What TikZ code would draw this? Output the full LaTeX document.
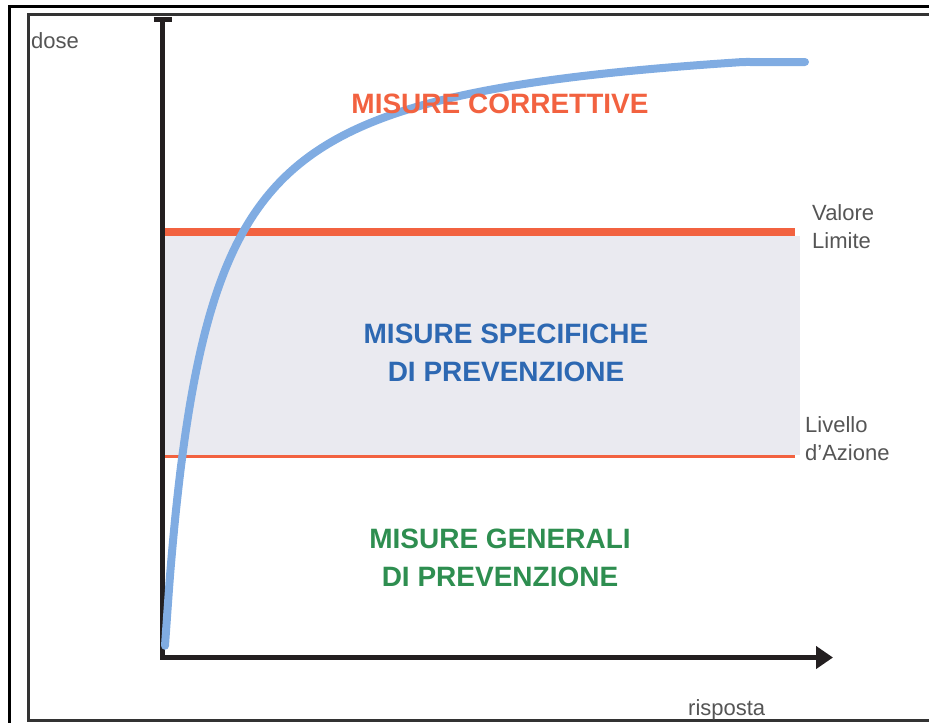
\documentclass[tikz,border=0pt]{standalone}
\usepackage{fontspec}
\setmainfont{Liberation Sans}
\usetikzlibrary{arrows.meta}

\definecolor{arancio}{RGB}{242,98,64}
\definecolor{azzurro}{RGB}{128,172,226}
\definecolor{blu}{RGB}{45,104,178}
\definecolor{verde}{RGB}{46,142,80}
\definecolor{fascia}{RGB}{234,234,240}
\definecolor{asse}{RGB}{35,31,32}
\definecolor{testo}{RGB}{85,85,85}

\begin{document}
\begin{tikzpicture}[x=1pt, y=-1pt,
  etich/.style={text=testo, font=\fontsize{22}{28}\selectfont, inner sep=0pt, align=left},
  titolo/.style={font=\fontsize{28}{38.5}\selectfont\bfseries, inner sep=0pt, align=center}]
  \useasboundingbox (0,0) rectangle (929,723);
  % Cornici
  \draw[line width=3pt] (929,6.5) -- (9.5,6.5) -- (9.5,723);
  \draw[line width=3pt, black!80] (929,14.5) -- (28,14.5) -- (28,720.5) -- (929,720.5);
  % Fascia tra le due soglie
  \fill[fascia] (165,236) rectangle (800,455);
  % Valore limite e livello d'azione
  \draw[arancio, line width=8pt] (165,232) -- (795,232);
  \draw[arancio, line width=3pt] (165,456) -- (795,456);
  % Assi
  \draw[asse, line width=5pt, {Bar[width=18pt]}-{Triangle[length=17pt, width=22pt]}]
    (162.5,17) -- (162.5,657.5) -- (833,657.5);
  % Curva dose-risposta
  \draw[azzurro, line width=8pt, line cap=round, line join=round]
    plot[smooth, domain=0:640, samples=130]
      ({165+\x}, {62+max(247/(0.01*\x+0.396)-40,0)});
  % Zone
  \node[titolo, text=arancio] (correttive) at (500,104) {MISURE CORRETTIVE};
  \node[titolo, text=blu] (specifiche) at (506,353) {MISURE SPECIFICHE\\DI PREVENZIONE};
  \node[titolo, text=verde] (generali) at (500,558) {MISURE GENERALI\\DI PREVENZIONE};
  % Etichette
  \node[etich, anchor=west] (limite) at (812,227) {Valore\\Limite};
  \node[etich, anchor=west] (azione) at (805,439) {Livello\\d'Azione};
  \node[etich, anchor=base west] (dose) at (31,48) {dose};
  \node[etich, anchor=base west] (risposta) at (688,715) {risposta};
\end{tikzpicture}
\end{document}
